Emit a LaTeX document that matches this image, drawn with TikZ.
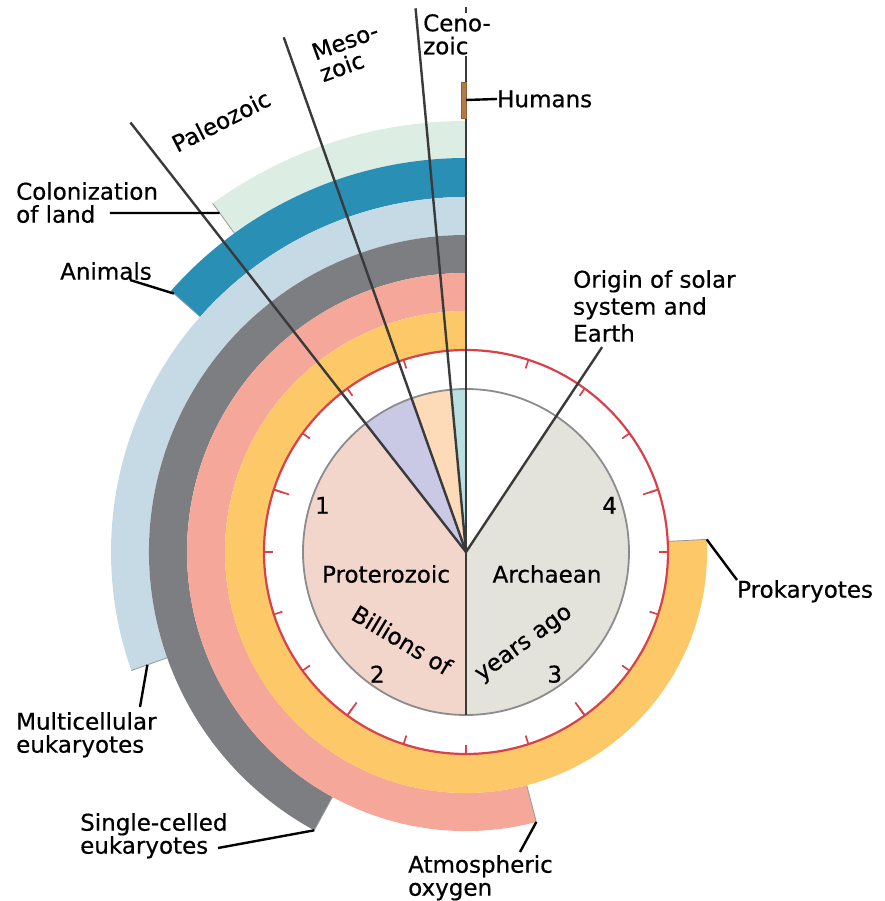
\documentclass[tikz,border=0pt]{standalone}
\usepackage{fontspec}
\setmainfont{DejaVu Sans}[FakeBold=0.5]
\usetikzlibrary{positioning}

\definecolor{landgreen}{HTML}{DCEEE4}
\definecolor{animalteal}{HTML}{2A8FB5}
\definecolor{multiblue}{HTML}{C5DAE5}
\definecolor{singlegray}{HTML}{7D7E82}
\definecolor{oxypink}{HTML}{F5A79A}
\definecolor{prokyellow}{HTML}{FDC868}
\definecolor{proterofill}{HTML}{F2D6CC}
\definecolor{archaefill}{HTML}{E4E3DB}
\definecolor{paleofill}{HTML}{C9C8E5}
\definecolor{mesofill}{HTML}{FDDAB8}
\definecolor{cenofill}{HTML}{B9E0E0}
\definecolor{dialred}{HTML}{D8414A}
\definecolor{humanbrown}{HTML}{B37A45}
\definecolor{eraline}{HTML}{3A3A3A}

% band: inner radius, outer radius, end angle, colour
\newcommand{\lifeband}[4]{%
  \fill[#4] (90:#1) arc[start angle=90, end angle=#3, radius=#1pt]
    -- (#3:#2) arc[start angle=#3, end angle=90, radius=#2pt] -- cycle;
  \draw[bandend] (#3:#1) -- (#3:#2);}

\begin{document}
\begin{tikzpicture}[x=1pt, y=1pt,
    every node/.style={font=\fontsize{23}{23}\selectfont, inner sep=0pt},
    txt/.style={align=left},
    era/.style={draw=eraline, line width=2.4pt},
    leader/.style={draw=black, line width=2.4pt},
    bandend/.style={draw=gray!80, line width=0.8pt},
    dial/.style={draw=dialred, line width=2.2pt},
    dialtick/.style={draw=dialred, line width=1.7pt},
    disc/.style={draw=gray!90, line width=1.8pt},
    humanbar/.style={draw=humanbrown!80!black, line width=0.4pt, fill=humanbrown,
                     minimum width=5pt, minimum height=36pt}
]
\useasboundingbox (-466,-349) rectangle (418,552);

% bands of life, outermost first
\lifeband{394}{431}{126}{landgreen}
\lifeband{355}{394}{138.5}{animalteal}
\lifeband{317}{355}{199.5}{multiblue}
\lifeband{279}{317}{241.4}{singlegray}
\lifeband{241}{279}{284.6}{oxypink}
\lifeband{202}{241}{363}{prokyellow}

% eons and eras in the disc
\fill[proterofill] (0,0) -- (128:163) arc[start angle=128, end angle=270, radius=163pt] -- cycle;
\fill[archaefill] (0,0) -- (270:163) arc[start angle=270, end angle=416.4, radius=163pt] -- cycle;
\fill[paleofill] (0,0) -- (109.5:163) arc[start angle=109.5, end angle=128, radius=163pt] -- cycle;
\fill[mesofill] (0,0) -- (95.3:163) arc[start angle=95.3, end angle=109.5, radius=163pt] -- cycle;
\fill[cenofill] (0,0) -- (90:163) arc[start angle=90, end angle=95.3, radius=163pt] -- cycle;
\draw[disc] (0,0) circle[radius=163pt];

% dial
\draw[dial] (0,0) circle[radius=202pt];
\foreach \a in {0,18,...,342}
  \draw[dialtick] ({90+\a}:202) -- ({90+\a}:193);
\foreach \a in {0,72,...,288}
  \draw[dialtick] ({90+\a}:202) -- ({90+\a}:186);
\foreach \n in {1,...,4}
  \node (num\n) at ({90+72*\n}:151) {\n};

% era boundaries
\coordinate (hub) at (0,0);
\draw[era] (hub) -- (90:545);
\draw[era] (hub) -- (95.3:546);
\draw[era] (hub) -- (109.5:546);
\draw[era] (hub) -- (128:545);
\draw[era] (hub) -- (270:163);
\draw[era] (hub) -- (56.4:246);

% eon and era names
\node (protero) at (-80,-22) {Proterozoic};
\node (archae)  at (81,-22)  {Archaean};
\node[rotate=-31] (billions) at (-64,-88) {Billions of};
\node[rotate=36]  (yearsago) at (59,-93)  {years ago};
\node[txt, anchor=north west, fill=white, inner sep=1pt] (ceno) at (-44,539) {Ceno-\\zoic};
\node[txt, rotate=20] (meso) at (-117,500) {Meso-\\zoic};
\node[rotate=27] (paleo) at (-245,431) {Paleozoic};

% humans
\node[humanbar] (hbar) at (-2.5,452) {};
\node[anchor=west] (humans) at (31,453) {Humans};
\draw[leader] (hbar.east) -- (humans.west);

% band labels
\node[txt, anchor=north west] (colon) at (-450,370) {Colonization\\of land};
\node[anchor=north west] (animals) at (-406,290) {Animals};
\node[txt, anchor=north west, font=\fontsize{23}{27}\selectfont] (origin) at (107,282)
  {Origin of solar\\system and\\Earth};
\node[anchor=north west] (prok) at (271,-28) {Prokaryotes};
\node[txt, anchor=north west] (multi) at (-450,-160) {Multicellular\\eukaryotes};
\node[txt, anchor=north west] (single) at (-386,-261) {Single-celled\\eukaryotes};
\node[txt, anchor=north west] (oxy) at (-58,-303) {Atmospheric\\oxygen};

\coordinate (land-end)  at (126:419);
\coordinate (land-tip)  at (-356,339);
\coordinate (anim-end)  at (138.5:390);
\coordinate (anim-tip)  at (-336,272);
\coordinate (multi-end) at (199.5:338);
\coordinate (multi-tip) at (-326,-155);
\coordinate (single-end) at (241.4:317);
\coordinate (single-tip) at (-248,-296);
\coordinate (oxy-end)   at (284.6:279);
\coordinate (oxy-tip)   at (54,-300);
\coordinate (prok-end)  at (363:241);

\draw[leader] (land-tip) -- (land-end);
\draw[leader] (anim-tip) -- (anim-end);
\draw[leader] (multi-tip) -- (multi-end);
\draw[leader] (single-tip) -- (single-end);
\draw[leader] (oxy-tip) -- (oxy-end);
\draw[leader] (prok.north west) -- (prok-end);
\end{tikzpicture}
\end{document}
